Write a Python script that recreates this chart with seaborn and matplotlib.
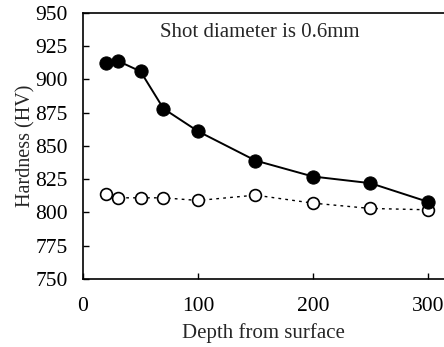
import matplotlib
matplotlib.use("Agg")
import matplotlib.pyplot as plt
import seaborn as sns
import pandas as pd

depth = [20, 30, 50, 70, 100, 150, 200, 250, 300]
hard_peened = [912, 914, 906, 878, 861, 839, 827, 822, 808]
hard_base = [814, 811, 811, 811, 809, 813, 807, 803, 802]
xticks = [0, 100, 200, 300]
yticks = [750, 775, 800, 825, 850, 875, 900, 925, 950]

sns.set_style("ticks")
plt.rcParams['font.family'] = ['Liberation Serif', 'DejaVu Serif']

df = pd.DataFrame({"depth": depth, "peened": hard_peened, "base": hard_base})

fig = plt.figure(figsize=(4.44, 3.47), dpi=100)
ax = fig.add_axes([0.187, 0.196, 0.813, 0.767])

sns.lineplot(data=df, x="depth", y="base", ax=ax, color="black", lw=1.0,
             linestyle=(0, (2, 3)), marker="o", markersize=8.5,
             markerfacecolor="white", markeredgecolor="black", markeredgewidth=1.2)
sns.lineplot(data=df, x="depth", y="peened", ax=ax, color="black", lw=1.4,
             marker="o", markersize=9.5, markerfacecolor="black",
             markeredgecolor="black")

ax.set_xlim(0, 314)
ax.set_ylim(750, 950)
ax.set_xticks(xticks)
ax.set_yticks(yticks)
ax.tick_params(direction="in", length=4, width=1, labelsize=15.5, colors="black", pad=11)
ax.tick_params(axis="x", pad=13)
for s in ax.spines.values():
    s.set_linewidth(1.2)
    s.set_color("black")
ax.spines["right"].set_visible(False)

ax.set_xlabel("Depth from surface", fontsize=15, labelpad=5)
ax.set_ylabel("Hardness (HV)", fontsize=14.5, labelpad=0)
ax.text(154, 935, "Shot diameter is 0.6mm", ha="center", va="center", fontsize=15)

fig.savefig("out.png", dpi=100)
